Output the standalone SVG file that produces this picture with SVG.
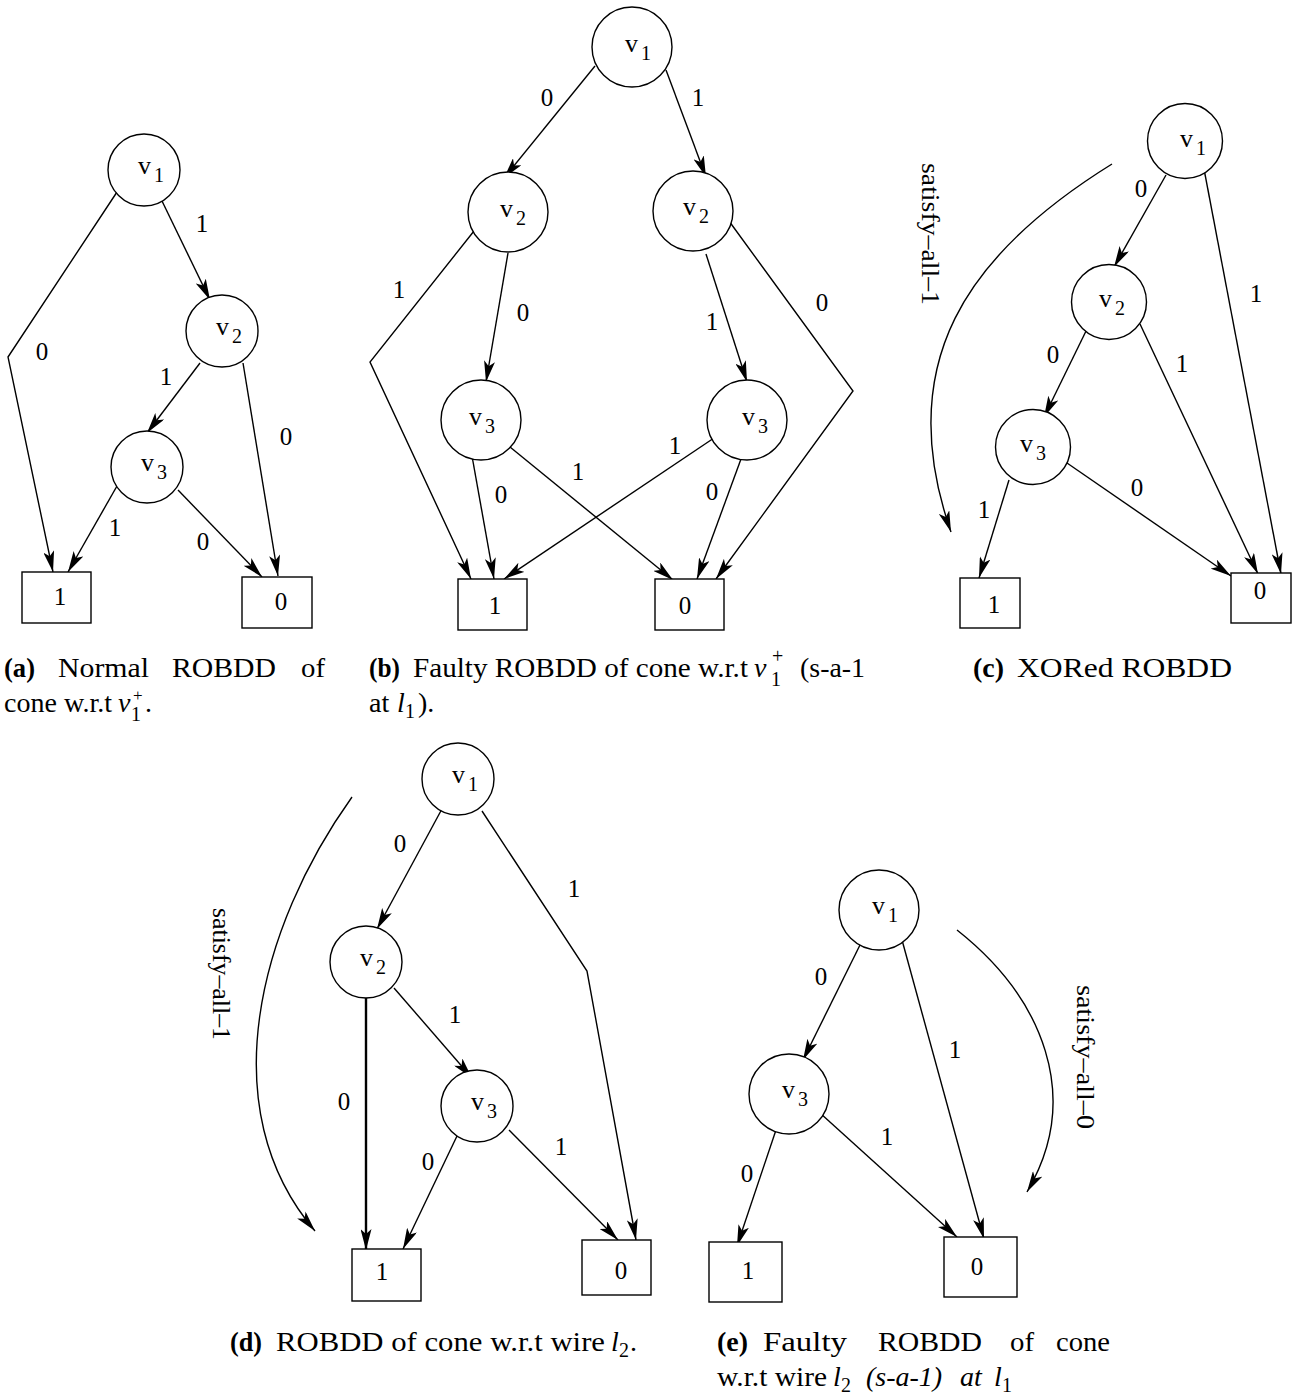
<svg xmlns="http://www.w3.org/2000/svg" width="1293" height="1395" viewBox="0 0 1293 1395">
  <style>
    .n { fill: #fff; stroke: #000; stroke-width: 1.4; }
    .e { fill: none; stroke: #000; stroke-width: 1.4; marker-end: url(#ah); }
    .arc { fill: none; stroke: #000; stroke-width: 1.4; marker-end: url(#ah); }
    .lb { font-family: "Liberation Serif", serif; font-size: 25px; text-anchor: middle; fill: #000; }
    .nv { font-family: "Liberation Serif", serif; font-size: 26px; fill: #000; }
    .sub { font-size: 20px; }
    .rot { font-family: "Liberation Serif", serif; font-size: 25px; fill: #000; }
    .cap { font-family: "Liberation Serif", serif; font-size: 28px; fill: #000; }
    .sm { font-size: 20px; }
    .xs { font-size: 17px; }
    .b { font-weight: bold; }
    .i { font-style: italic; }
  </style>
  <defs>
    <marker id="ah" viewBox="0 0 21 11" refX="21" refY="5.5" markerWidth="21" markerHeight="11" markerUnits="userSpaceOnUse" orient="auto">
      <path d="M0,0 L21,5.5 L0,11 L5,5.5 Z" fill="#000"/>
    </marker>
  </defs>
  <rect width="1293" height="1395" fill="#fff"/>

  <!-- ===== (a) Normal ROBDD ===== -->
  <g id="a-edges">
    <polyline class="e" points="117,192 8,357 53,572"/>
    <line class="e" x1="162" y1="201" x2="210" y2="300"/>
    <line class="e" x1="200" y1="363" x2="147" y2="433"/>
    <line class="e" x1="243" y1="363" x2="278" y2="576"/>
    <line class="e" x1="117" y1="486" x2="68" y2="572"/>
    <line class="e" x1="178" y1="490" x2="262" y2="577"/>
    <text class="lb" x="42" y="360">0</text>
    <text class="lb" x="202" y="232">1</text>
    <text class="lb" x="166" y="385">1</text>
    <text class="lb" x="286" y="445">0</text>
    <text class="lb" x="115" y="536">1</text>
    <text class="lb" x="203" y="550">0</text>
  </g>
  <g id="a-v1"><circle class="n" cx="144" cy="170" r="36"/><text class="nv" x="138" y="174">v<tspan class="sub" dx="3" dy="8">1</tspan></text></g>
  <g id="a-v2"><circle class="n" cx="222" cy="331" r="36"/><text class="nv" x="216" y="335">v<tspan class="sub" dx="3" dy="8">2</tspan></text></g>
  <g id="a-v3"><circle class="n" cx="147" cy="467" r="36"/><text class="nv" x="141" y="471">v<tspan class="sub" dx="3" dy="8">3</tspan></text></g>
  <g id="a-t1"><rect class="n" x="22" y="572" width="69" height="51"/><text class="lb" x="60" y="605">1</text></g>
  <g id="a-t0"><rect class="n" x="242" y="577" width="70" height="51"/><text class="lb" x="281" y="610">0</text></g>

  <!-- ===== (b) Faulty ROBDD ===== -->
  <g id="b-edges">
    <line class="e" x1="595" y1="66" x2="504" y2="178"/>
    <line class="e" x1="666" y1="70" x2="706" y2="177"/>
    <polyline class="e" points="474,231 370,362 471,579"/>
    <line class="e" x1="508" y1="253" x2="486" y2="382"/>
    <line class="e" x1="706" y1="254" x2="747" y2="382"/>
    <polyline class="e" points="729,221 853,391 716,579"/>
    <line class="e" x1="472" y1="456" x2="494" y2="579"/>
    <line class="e" x1="510" y1="447" x2="673" y2="580"/>
    <line class="e" x1="714" y1="438" x2="504" y2="579"/>
    <line class="e" x1="741" y1="459" x2="697" y2="579"/>
    <text class="lb" x="547" y="106">0</text>
    <text class="lb" x="698" y="106">1</text>
    <text class="lb" x="399" y="298">1</text>
    <text class="lb" x="523" y="321">0</text>
    <text class="lb" x="712" y="330">1</text>
    <text class="lb" x="822" y="311">0</text>
    <text class="lb" x="501" y="503">0</text>
    <text class="lb" x="578" y="480">1</text>
    <text class="lb" x="675" y="454">1</text>
    <text class="lb" x="712" y="500">0</text>
  </g>
  <g id="b-v1"><circle class="n" cx="632" cy="47" r="40"/><text class="nv" x="625" y="52">v<tspan class="sub" dx="3" dy="8">1</tspan></text></g>
  <g id="b-v2l"><circle class="n" cx="508" cy="212" r="40"/><text class="nv" x="500" y="217">v<tspan class="sub" dx="3" dy="8">2</tspan></text></g>
  <g id="b-v2r"><circle class="n" cx="693" cy="211" r="40"/><text class="nv" x="683" y="215">v<tspan class="sub" dx="3" dy="8">2</tspan></text></g>
  <g id="b-v3l"><circle class="n" cx="481" cy="420" r="40"/><text class="nv" x="469" y="425">v<tspan class="sub" dx="3" dy="8">3</tspan></text></g>
  <g id="b-v3r"><circle class="n" cx="747" cy="420" r="40"/><text class="nv" x="742" y="425">v<tspan class="sub" dx="3" dy="8">3</tspan></text></g>
  <g id="b-t1"><rect class="n" x="458" y="579" width="69" height="51"/><text class="lb" x="495" y="614">1</text></g>
  <g id="b-t0"><rect class="n" x="655" y="579" width="69" height="51"/><text class="lb" x="685" y="614">0</text></g>

  <!-- ===== (c) XORed ROBDD ===== -->
  <g id="c-edges">
    <line class="e" x1="1166" y1="175" x2="1114" y2="267"/>
    <line class="e" x1="1204" y1="169" x2="1281" y2="574"/>
    <line class="e" x1="1088" y1="327" x2="1044" y2="417"/>
    <line class="e" x1="1140" y1="324" x2="1258" y2="574"/>
    <line class="e" x1="1009" y1="480" x2="979" y2="578"/>
    <line class="e" x1="1067" y1="463" x2="1231" y2="576"/>
    <path class="arc" d="M1112,164 C967,254 892,363 951,532"/>
    <text class="rot" transform="translate(922,163) rotate(90)" textLength="142" lengthAdjust="spacingAndGlyphs">satisfy–all–1</text>
    <text class="lb" x="1141" y="197">0</text>
    <text class="lb" x="1256" y="302">1</text>
    <text class="lb" x="1053" y="363">0</text>
    <text class="lb" x="1182" y="372">1</text>
    <text class="lb" x="984" y="518">1</text>
    <text class="lb" x="1137" y="496">0</text>
  </g>
  <g id="c-v1"><circle class="n" cx="1185" cy="141" r="37.5"/><text class="nv" x="1180" y="147">v<tspan class="sub" dx="3" dy="8">1</tspan></text></g>
  <g id="c-v2"><circle class="n" cx="1109" cy="302" r="37.5"/><text class="nv" x="1099" y="307">v<tspan class="sub" dx="3" dy="8">2</tspan></text></g>
  <g id="c-v3"><circle class="n" cx="1033" cy="447" r="37.5"/><text class="nv" x="1020" y="452">v<tspan class="sub" dx="3" dy="8">3</tspan></text></g>
  <g id="c-t1"><rect class="n" x="960" y="578" width="60" height="50"/><text class="lb" x="994" y="613">1</text></g>
  <g id="c-t0"><rect class="n" x="1231" y="573" width="60" height="50"/><text class="lb" x="1260" y="599">0</text></g>

  <!-- ===== (d) ROBDD of cone w.r.t wire l2 ===== -->
  <g id="d-edges">
    <line class="e" x1="443" y1="807" x2="377" y2="929"/>
    <polyline class="e" points="482,811 587,971 636,1240"/>
    <line class="e" x1="366" y1="996" x2="366" y2="1250" style="stroke-width:2.4"/>
    <line class="e" x1="394" y1="988" x2="472" y2="1078"/>
    <line class="e" x1="457" y1="1136" x2="403" y2="1249"/>
    <line class="e" x1="509" y1="1130" x2="618" y2="1240"/>
    <path class="arc" d="M352,797 C259,927 211,1109 315,1231"/>
    <text class="rot" transform="translate(213,908) rotate(90)" textLength="132" lengthAdjust="spacingAndGlyphs">satisfy–all–1</text>
    <text class="lb" x="400" y="852">0</text>
    <text class="lb" x="574" y="897">1</text>
    <text class="lb" x="344" y="1110">0</text>
    <text class="lb" x="455" y="1023">1</text>
    <text class="lb" x="428" y="1170">0</text>
    <text class="lb" x="561" y="1155">1</text>
  </g>
  <g id="d-v1"><circle class="n" cx="458" cy="779" r="36"/><text class="nv" x="452" y="783">v<tspan class="sub" dx="3" dy="8">1</tspan></text></g>
  <g id="d-v2"><circle class="n" cx="366" cy="962" r="36"/><text class="nv" x="360" y="966">v<tspan class="sub" dx="3" dy="8">2</tspan></text></g>
  <g id="d-v3"><circle class="n" cx="477" cy="1106" r="36"/><text class="nv" x="471" y="1110">v<tspan class="sub" dx="3" dy="8">3</tspan></text></g>
  <g id="d-t1"><rect class="n" x="352" y="1249" width="69" height="52"/><text class="lb" x="382" y="1280">1</text></g>
  <g id="d-t0"><rect class="n" x="582" y="1240" width="69" height="55"/><text class="lb" x="621" y="1279">0</text></g>

  <!-- ===== (e) Faulty ROBDD of cone w.r.t wire l2 ===== -->
  <g id="e-edges">
    <line class="e" x1="860" y1="945" x2="803" y2="1060"/>
    <line class="e" x1="902" y1="940" x2="984" y2="1239"/>
    <line class="e" x1="777" y1="1127" x2="737" y2="1246"/>
    <line class="e" x1="820" y1="1113" x2="957" y2="1237"/>
    <path class="arc" d="M957,930 C1043,998 1083,1097 1027,1192"/>
    <text class="rot" transform="translate(1077,985) rotate(90)" textLength="144" lengthAdjust="spacingAndGlyphs">satisfy–all–0</text>
    <text class="lb" x="821" y="985">0</text>
    <text class="lb" x="955" y="1058">1</text>
    <text class="lb" x="747" y="1182">0</text>
    <text class="lb" x="887" y="1145">1</text>
  </g>
  <g id="e-v1"><circle class="n" cx="879" cy="910" r="40"/><text class="nv" x="872" y="914">v<tspan class="sub" dx="3" dy="8">1</tspan></text></g>
  <g id="e-v3"><circle class="n" cx="789" cy="1094" r="40"/><text class="nv" x="782" y="1098">v<tspan class="sub" dx="3" dy="8">3</tspan></text></g>
  <g id="e-t1"><rect class="n" x="709" y="1242" width="73" height="60"/><text class="lb" x="748" y="1279">1</text></g>
  <g id="e-t0"><rect class="n" x="944" y="1237" width="73" height="60"/><text class="lb" x="977" y="1275">0</text></g>

  <!-- ===== captions ===== -->
  <g id="captions">
    <text class="cap b" x="4" y="677" textLength="31" lengthAdjust="spacingAndGlyphs">(a)</text>
    <text class="cap" x="58" y="677" textLength="91" lengthAdjust="spacingAndGlyphs">Normal</text>
    <text class="cap" x="172" y="677" textLength="104" lengthAdjust="spacingAndGlyphs">ROBDD</text>
    <text class="cap" x="301" y="677" textLength="24" lengthAdjust="spacingAndGlyphs">of</text>
    <text class="cap" x="4" y="712" textLength="108" lengthAdjust="spacingAndGlyphs">cone w.r.t</text>
    <text class="cap i" x="118" y="712">v</text>
    <text class="cap sm" x="131" y="721">1</text>
    <text class="cap xs" x="133" y="701">+</text>
    <text class="cap" x="145" y="712">.</text>

    <text class="cap b" x="369" y="677" textLength="31" lengthAdjust="spacingAndGlyphs">(b)</text>
    <text class="cap" x="413" y="677" textLength="335" lengthAdjust="spacingAndGlyphs">Faulty ROBDD of cone w.r.t</text>
    <text class="cap i" x="754" y="677">v</text>
    <text class="cap sm" x="771" y="686">1</text>
    <text class="cap sm" x="772" y="663">+</text>
    <text class="cap" x="800" y="677" textLength="65" lengthAdjust="spacingAndGlyphs">(s-a-1</text>
    <text class="cap" x="369" y="712">at</text>
    <text class="cap i" x="397" y="712">l</text>
    <text class="cap sm" x="405" y="718">1</text>
    <text class="cap" x="418" y="712">).</text>

    <text class="cap b" x="973" y="677" textLength="31" lengthAdjust="spacingAndGlyphs">(c)</text>
    <text class="cap" x="1017" y="677" textLength="215" lengthAdjust="spacingAndGlyphs">XORed ROBDD</text>

    <text class="cap b" x="230" y="1351" textLength="32" lengthAdjust="spacingAndGlyphs">(d)</text>
    <text class="cap" x="276" y="1351" textLength="329" lengthAdjust="spacingAndGlyphs">ROBDD of cone w.r.t wire</text>
    <text class="cap i" x="611" y="1351">l</text>
    <text class="cap sm" x="619" y="1357">2</text>
    <text class="cap" x="630" y="1351">.</text>

    <text class="cap b" x="717" y="1351" textLength="31" lengthAdjust="spacingAndGlyphs">(e)</text>
    <text class="cap" x="763" y="1351" textLength="84" lengthAdjust="spacingAndGlyphs">Faulty</text>
    <text class="cap" x="878" y="1351" textLength="104" lengthAdjust="spacingAndGlyphs">ROBDD</text>
    <text class="cap" x="1010" y="1351" textLength="24" lengthAdjust="spacingAndGlyphs">of</text>
    <text class="cap" x="1056" y="1351" textLength="54" lengthAdjust="spacingAndGlyphs">cone</text>
    <text class="cap" x="717" y="1386" textLength="110" lengthAdjust="spacingAndGlyphs">w.r.t wire</text>
    <text class="cap i" x="833" y="1386">l</text>
    <text class="cap sm" x="841" y="1392">2</text>
    <text class="cap i" x="866" y="1386">(s-a-1)</text>
    <text class="cap i" x="960" y="1386">at</text>
    <text class="cap i" x="994" y="1386">l</text>
    <text class="cap sm" x="1002" y="1392">1</text>
  </g>
</svg>
